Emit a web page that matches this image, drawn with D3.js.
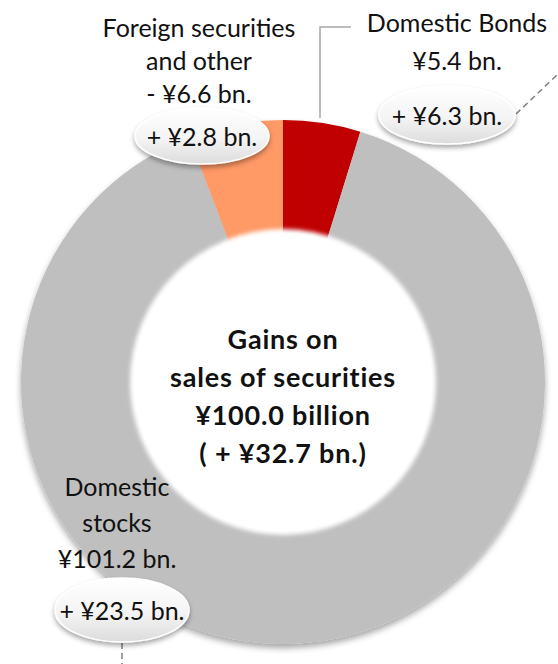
<!DOCTYPE html>
<html lang="en">
<head>
    <meta charset="UTF-8">
    <title>Gains on sales of securities</title>
    <script src="https://d3js.org/d3.v7.min.js"></script>
    <style>
        body {
            margin: 0;
            padding: 0;
            background: #fff;
            overflow: hidden;
        }

        text {
            font-family: Lato, "Open Sans", sans-serif;
            fill: #111;
        }

        .seg-label {
            font-size: 25px;
            text-anchor: middle;
            dominant-baseline: central;
        }

        .center-label {
            font-size: 27px;
            font-weight: bold;
            letter-spacing: 0.8px;
            text-anchor: middle;
            dominant-baseline: central;
        }
    </style>
</head>
<body>
<script>
    // data
    const segments = ["Domestic Bonds", "Domestic stocks", "Foreign securities and other"];
    const amounts = [5.4, 101.2, -6.6];      // ¥ bn.
    const changes = [6.3, 23.5, 2.8];        // year-on-year, ¥ bn.
    const totalAmount = 100.0;
    const totalChange = 32.7;

    const colors = ["#c00000", "#bfbfbf", "#ff9966"];

    const width = 558, height = 664;
    const cx = 283, cy = 382;
    const outerR = 262, innerR = 153;

    const svg = d3.select("body").append("svg")
        .attr("width", width)
        .attr("height", height);

    const defs = svg.append("defs");

    // shadow under the ring
    const ringShadow = defs.append("filter").attr("id", "ringShadow")
        .attr("x", "-10%").attr("y", "-10%").attr("width", "120%").attr("height", "125%");
    ringShadow.append("feDropShadow")
        .attr("dx", 0).attr("dy", 4).attr("stdDeviation", 3)
        .attr("flood-color", "#000").attr("flood-opacity", 0.35);

    // soft edge for the hole
    const holeShadow = defs.append("filter").attr("id", "holeShadow")
        .attr("x", "-10%").attr("y", "-10%").attr("width", "120%").attr("height", "120%");
    holeShadow.append("feGaussianBlur").attr("stdDeviation", 2);

    // bubble look
    const bubbleGrad = defs.append("linearGradient").attr("id", "bubbleGrad")
        .attr("x1", 0).attr("y1", 0).attr("x2", 0).attr("y2", 1);
    bubbleGrad.append("stop").attr("offset", "0%").attr("stop-color", "#ffffff");
    bubbleGrad.append("stop").attr("offset", "55%").attr("stop-color", "#f4f4f4");
    bubbleGrad.append("stop").attr("offset", "100%").attr("stop-color", "#dcdcdc");

    const bubbleShadow = defs.append("filter").attr("id", "bubbleShadow")
        .attr("x", "-20%").attr("y", "-30%").attr("width", "140%").attr("height", "170%");
    bubbleShadow.append("feDropShadow")
        .attr("dx", 0).attr("dy", 3).attr("stdDeviation", 2.5)
        .attr("flood-color", "#000").attr("flood-opacity", 0.35);

    // ring
    const pie = d3.pie().sort(null).value(d => Math.abs(d));
    const arc = d3.arc().innerRadius(innerR - 4).outerRadius(outerR);
    const arcs = pie(amounts);

    const ring = svg.append("g")
        .attr("transform", `translate(${cx},${cy})`);

    ring.append("g")
        .attr("filter", "url(#ringShadow)")
        .selectAll("path")
        .data(arcs)
        .join("path")
        .attr("d", arc)
        .attr("fill", (d, i) => colors[i]);

    ring.append("circle")
        .attr("r", innerR)
        .attr("fill", "#fff")
        .attr("filter", "url(#holeShadow)");

    // center text
    const fmt = d3.format(".1f");
    const centerLines = [
        "Gains on",
        "sales of securities",
        `¥${fmt(totalAmount)} billion`,
        `( + ¥${fmt(totalChange)} bn.)`
    ];
    ring.selectAll(".center-label")
        .data(centerLines)
        .join("text")
        .attr("class", "center-label")
        .attr("x", 0)
        .attr("y", (d, i) => -44 + i * 38.3)
        .text(d => d);

    // segment labels
    function amountText(v) {
        return v < 0 ? `- ¥${fmt(-v)} bn.` : `¥${fmt(v)} bn.`;
    }

    const labelLayout = [
        { lines: ["Domestic Bonds", amountText(amounts[0])], x: 457, y: 22, dy: 38,
          bx: 447, by: 115, rx: 68, ry: 29 },
        { lines: ["Domestic", "stocks", amountText(amounts[1])], x: 117, y: 486, dy: 36,
          bx: 122, by: 610, rx: 67, ry: 32 },
        { lines: ["Foreign securities", "and other", amountText(amounts[2])], x: 199, y: 27, dy: 33,
          bx: 202, by: 136, rx: 67, ry: 28 }
    ];

    // leader lines
    svg.append("path")
        .attr("d", "M320,118 V27 H351")
        .attr("fill", "none")
        .attr("stroke", "#a6a6a6")
        .attr("stroke-width", 1.5);

    svg.append("line")
        .attr("x1", 516).attr("y1", 114).attr("x2", 558).attr("y2", 74)
        .attr("stroke", "#808080").attr("stroke-width", 1.5)
        .attr("stroke-dasharray", "6,4");

    svg.append("line")
        .attr("x1", 122).attr("y1", 643).attr("x2", 122).attr("y2", 664)
        .attr("stroke", "#808080").attr("stroke-width", 1.5)
        .attr("stroke-dasharray", "6,4");

    labelLayout.forEach((l, i) => {
        const g = svg.append("g");
        l.lines.forEach((t, j) => {
            g.append("text")
                .attr("class", "seg-label")
                .attr("x", l.x)
                .attr("y", l.y + j * l.dy)
                .text(t);
        });

        g.append("ellipse")
            .attr("cx", l.bx).attr("cy", l.by)
            .attr("rx", l.rx).attr("ry", l.ry)
            .attr("fill", "url(#bubbleGrad)")
            .attr("stroke", "#fff")
            .attr("stroke-width", 1.5)
            .attr("filter", "url(#bubbleShadow)");

        g.append("text")
            .attr("class", "seg-label")
            .attr("x", l.bx)
            .attr("y", l.by)
            .text(`+ ¥${fmt(changes[i])} bn.`);
    });
</script>
</body>
</html>
